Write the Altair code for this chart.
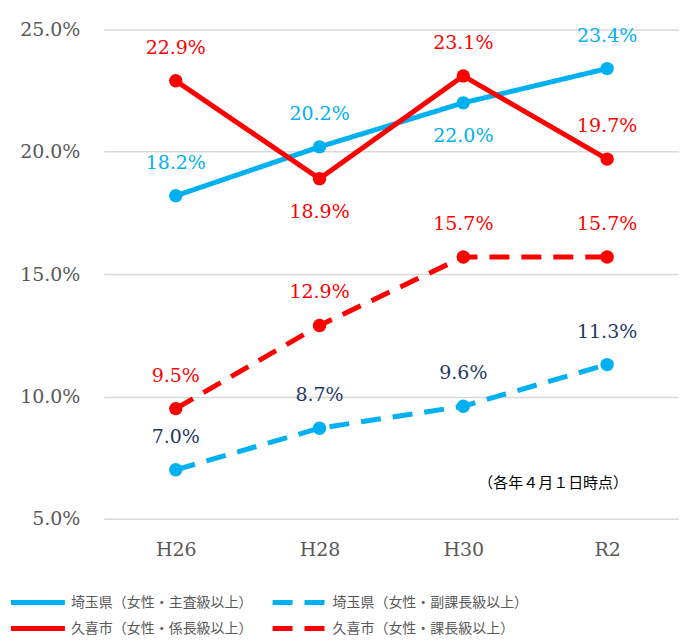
import altair as alt
import pandas as pd

years = ["H26", "H28", "H30", "R2"]
series_names = [
    "埼玉県（女性・主査級以上）",
    "久喜市（女性・係長級以上）",
    "埼玉県（女性・副課長級以上）",
    "久喜市（女性・課長級以上）",
]
saitama_shusa = [18.2, 20.2, 22.0, 23.4]
kuki_kakaricho = [22.9, 18.9, 23.1, 19.7]
saitama_fukukacho = [7.0, 8.7, 9.6, 11.3]
kuki_kacho = [9.5, 12.9, 15.7, 15.7]

label_pos = {
    series_names[0]: ["above", "above", "below", "above"],
    series_names[1]: ["above", "below", "above", "above"],
    series_names[2]: ["above", "above", "above", "above"],
    series_names[3]: ["above", "above", "above", "above"],
}
line_colors = ["#00B0F0", "#FF0000", "#00B0F0", "#FF0000"]
label_colors = ["#00B0F0", "#FF0000", "#1F3864", "#FF0000"]
dashes = [[1, 0], [1, 0], [20, 12], [20, 12]]

rows = []
for name, vals, lc in zip(series_names,
                          [saitama_shusa, kuki_kakaricho, saitama_fukukacho, kuki_kacho],
                          label_colors):
    for yr, v, p in zip(years, vals, label_pos[name]):
        rows.append({"year": yr, "value": v / 100, "series": name,
                     "label": f"{v:.1f}%", "pos": p, "lcolor": lc})
df = pd.DataFrame(rows)

SERIF = "DejaVu Serif"
SANS = "Noto Sans CJK JP"

x = alt.X("year:N", sort=years, title=None,
          scale=alt.Scale(type="point", padding=0.5),
          axis=alt.Axis(labelAngle=0, labelFont=SERIF, labelFontSize=19,
                        labelColor="#595959", ticks=False, domain=False,
                        grid=False, labelPadding=22))
y = alt.Y("value:Q", title=None,
          scale=alt.Scale(domain=[0.05, 0.25], nice=False, zero=False),
          axis=alt.Axis(values=[0.05, 0.10, 0.15, 0.20, 0.25], format=".1%",
                        labelFont=SERIF, labelFontSize=19, labelColor="#595959",
                        ticks=False, domain=False, grid=True,
                        gridColor="#D9D9D9", gridWidth=1.5, labelPadding=24))

color = alt.Color("series:N", scale=alt.Scale(domain=series_names, range=line_colors),
                  title=None,
                  legend=alt.Legend(orient="none", legendX=-82, legendY=558,
                                    columns=2, symbolType="M-2,0H2",
                                    symbolSize=729, symbolStrokeWidth=5,
                                    labelFont=SANS, labelFontSize=14,
                                    labelColor="#595959", labelLimit=400,
                                    columnPadding=10, rowPadding=0,
                                    labelOffset=17))
dash = alt.StrokeDash("series:N", scale=alt.Scale(domain=series_names, range=dashes),
                      title=None, legend=None)

base = alt.Chart(df)

lines = base.mark_line(strokeWidth=5).encode(x=x, y=y, color=color, strokeDash=dash,
                                               detail="series:N")
points = base.mark_circle(size=180, opacity=1).encode(
    x=x, y=y,
    color=alt.Color("series:N", scale=alt.Scale(domain=series_names, range=line_colors),
                    legend=None))

above = base.transform_filter(alt.datum.pos == "above").mark_text(
    font=SERIF, fontSize=19, dy=-33, baseline="middle").encode(
    x=x, y=y, text="label:N", color=alt.Color("lcolor:N", scale=None))
below = base.transform_filter(alt.datum.pos == "below").mark_text(
    font=SERIF, fontSize=19, dy=33, baseline="middle").encode(
    x=x, y=y, text="label:N", color=alt.Color("lcolor:N", scale=None))

note = alt.Chart(pd.DataFrame({"t": ["（各年４月１日時点）"]})).mark_text(
    font=SANS, fontSize=15, color="#000000", align="center", baseline="middle").encode(
    text="t:N", x=alt.value(450), y=alt.value(454))

chart = alt.layer(lines, points, above, below, note).properties(
    width=576, height=490,
    padding={"left": 96, "top": 21, "right": 0, "bottom": 125},
    autosize=alt.AutoSizeParams(type="none"),
).configure_view(stroke=None)

chart.save("out.html", embed_options={"renderer": "svg", "actions": False})
